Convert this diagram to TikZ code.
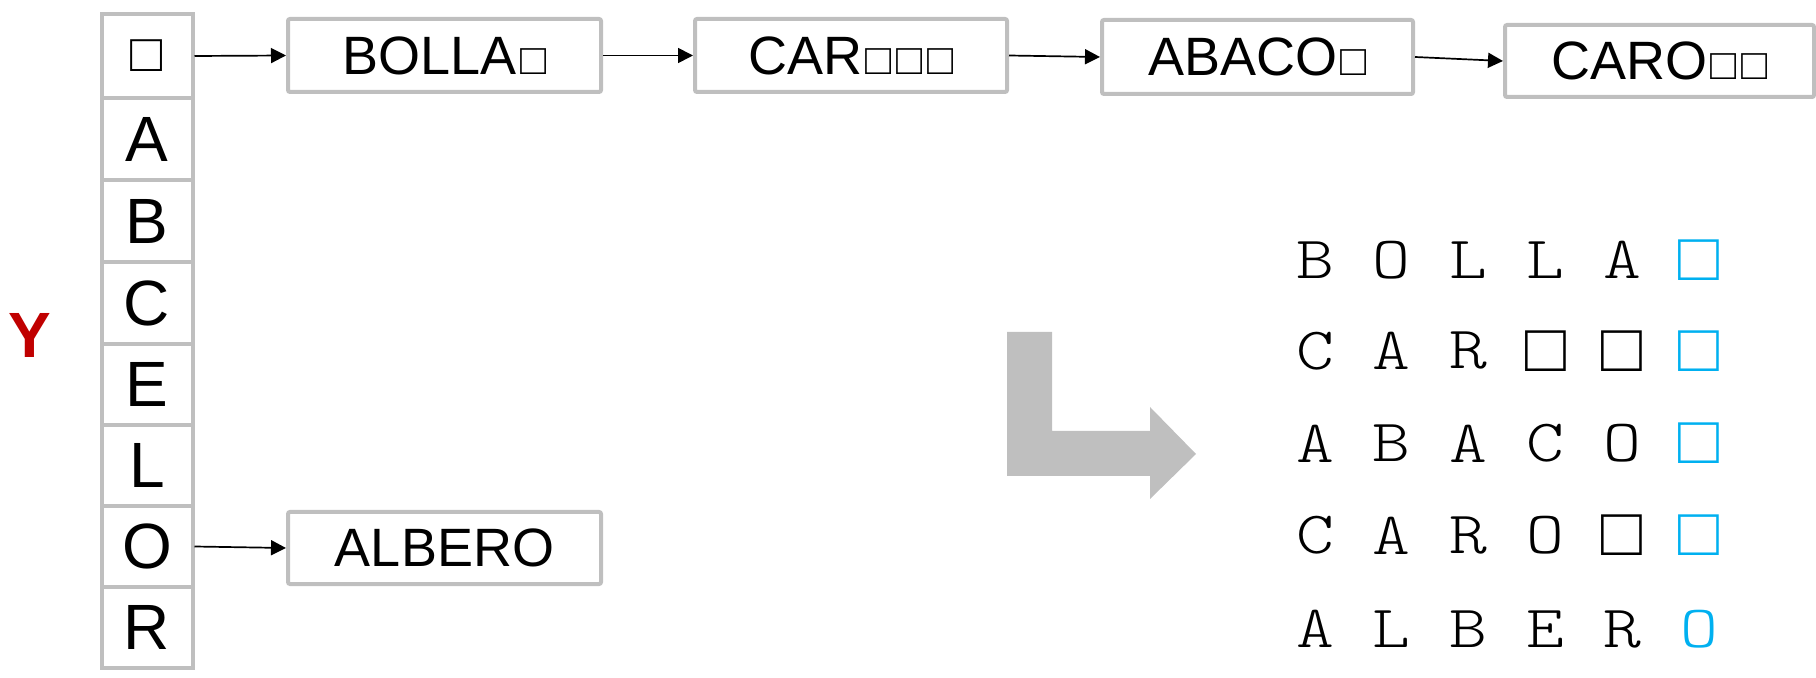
\documentclass[tikz,border=0pt]{standalone}
\usepackage{fontspec}
\usepackage{graphicx}
\setmainfont{Liberation Sans}
\newfontfamily\gridmono{Liberation Mono}
\newfontfamily\courlike[FakeStretch=1.2]{Latin Modern Mono Light}
\usetikzlibrary{arrows.meta}
\definecolor{boxgray}{HTML}{BFBFBF}
\definecolor{yred}{HTML}{C00000}
\definecolor{sqblue}{HTML}{00B0F0}
\newcommand\smsq{\hspace{1.5pt}\scalebox{0.8}{□}\hspace{1pt}}
\tikzset{
  cell/.style={draw=boxgray, line width=2pt, minimum width=45.5pt, inner sep=0pt,
    font=\fontsize{32}{36}\selectfont},
  wbox/.style={draw=boxgray, line width=2pt, rounded corners=1pt, inner sep=0pt,
    minimum height=36.5pt, font=\fontsize{27}{30}\selectfont},
  link/.style={-{Triangle[length=7.5pt,width=7.5pt]}, line width=0.85pt},
  gl/.style={inner sep=0pt, font=\courlike\fontsize{30}{34}\selectfont},
  gs/.style={inner sep=0pt, font=\gridmono\fontsize{34}{36}\selectfont},
}
\begin{document}
\begin{tikzpicture}[x=0.5pt,y=-0.5pt]
\useasboundingbox (0,0) rectangle (1816,678);
% Y label
\node[text=yred, font=\fontsize{32}{36}\selectfont\bfseries, inner sep=0pt] (ylab) at (30,335) {Y};
% column
\node[cell, minimum height=42pt]   (c0) at (147,56)    {\scalebox{0.83}{□}};
\node[cell, minimum height=41pt]   (c1) at (147,139)   {A};
\node[cell, minimum height=41pt]   (c2) at (147,221)   {B};
\node[cell, minimum height=41pt]   (c3) at (147,303)   {C};
\node[cell, minimum height=40.5pt] (c4) at (147,384.5) {E};
\node[cell, minimum height=40.5pt] (c5) at (147,465.5) {L};
\node[cell, minimum height=40.5pt] (c6) at (147,546.5) {O};
\node[cell, minimum height=40.5pt] (c7) at (147,627.5) {R};
% word boxes
\node[wbox, minimum width=156.5pt] (b1) at (444.5,55.5) {BOLLA\smsq};
\node[wbox, minimum width=156pt]   (b2) at (851,55.5)   {CAR\smsq\smsq\smsq};
\node[wbox, minimum width=155.5pt, minimum height=37pt] (b3) at (1257.5,57) {ABACO\smsq};
\node[wbox, minimum width=154.5pt, minimum height=36pt] (b4) at (1659.5,61) {CARO\smsq\smsq};
\node[wbox, minimum width=156.5pt, minimum height=36pt] (b5) at (444.5,548) {ALBERO};
% links
\draw[link] (c0.east) -- (b1.west);
\draw[link] (b1.east) -- (b2.west);
\draw[link] (b2.east) -- (b3.west);
\draw[link] (b3.east) -- (b4.west);
\draw[link] (c6.east) -- (b5.west);
% big bent arrow
\fill[boxgray] (1007,332) -- (1052,332) -- (1052,431) -- (1150,431) -- (1150,407)
  -- (1196,454) -- (1150,499) -- (1150,476) -- (1007,476) -- cycle;
% grid
\foreach \t [count=\i] in {B,O,L,L,A}
  \node[gl] (ga\i) at ({1315+76.8*(\i-1)},260) {\t};
\node[gs, text=sqblue] (ga6) at (1699,260) {□};
\foreach \t [count=\i] in {C,A,R}
  \node[gl] (gb\i) at ({1315+76.8*(\i-1)},351) {\t};
\node[gs] (gb4) at (1545.4,351) {□};
\node[gs] (gb5) at (1622.2,351) {□};
\node[gs, text=sqblue] (gb6) at (1699,351) {□};
\foreach \t [count=\i] in {A,B,A,C,O}
  \node[gl] (gc\i) at ({1315+76.8*(\i-1)},443.5) {\t};
\node[gs, text=sqblue] (gc6) at (1699,443.5) {□};
\foreach \t [count=\i] in {C,A,R,O}
  \node[gl] (gd\i) at ({1315+76.8*(\i-1)},535.5) {\t};
\node[gs] (gd5) at (1622.2,535.5) {□};
\node[gs, text=sqblue] (gd6) at (1699,535.5) {□};
\foreach \t [count=\i] in {A,L,B,E,R}
  \node[gl] (ge\i) at ({1315+76.8*(\i-1)},629) {\t};
\node[gl, text=sqblue] (ge6) at (1699,629) {O};
\end{tikzpicture}
\end{document}
